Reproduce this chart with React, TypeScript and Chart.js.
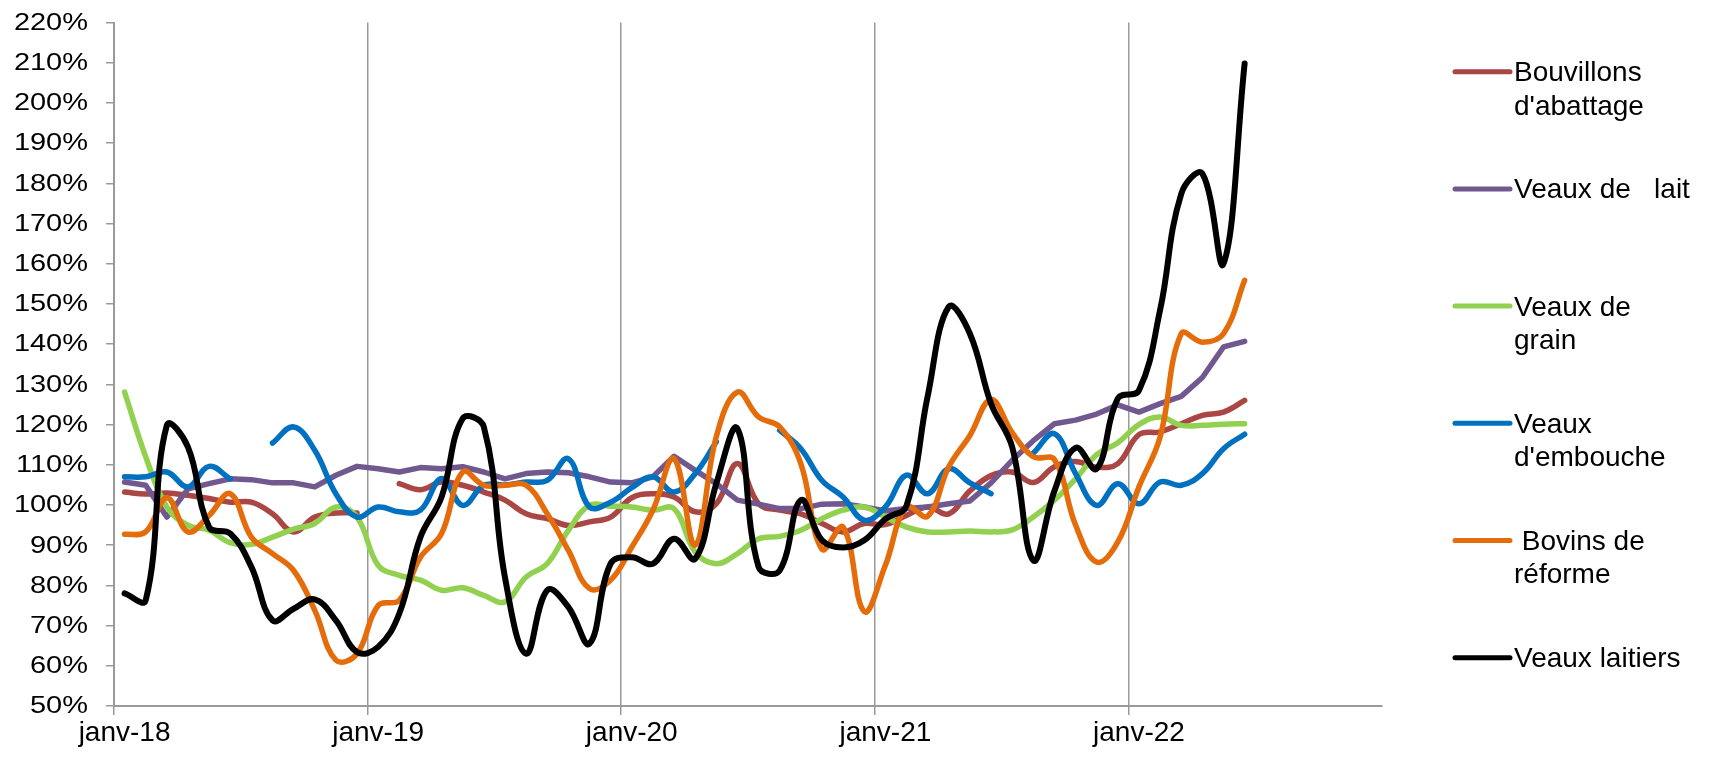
import React, { useEffect, useRef } from 'react';
import { Chart, registerables } from 'chart.js';

Chart.register(...registerables);

// ---- data ----
const monthNames = ['janv', 'févr', 'mars', 'avr', 'mai', 'juin', 'juil', 'août', 'sept', 'oct', 'nov', 'déc'];
const years = ['18', '19', '20', '21', '22'];
const categories = years.flatMap((y) => monthNames.map((m) => `${m}-${y}`));

const yTicks = [50, 60, 70, 80, 90, 100, 110, 120, 130, 140, 150, 160, 170, 180, 190, 200, 210, 220];

const bouvillons = [
  103.2, 102.7, 103, 102.4, 101.6, 100.7, 100.7, 97.8, 93.3, 97, 98, 98,
  null, 105.3, 103.8, 105.7, 104.9, 103.2, 101.2, 97.8, 96.6, 94.9, 95.8, 97,
  101.8, 102.8, 102, 98.3, 100.3, 110.3, 100.3, 98.7, 97.8, 95.4, 93.3, 95.4,
  95.1, 97.4, 99.5, 97.8, 103.5, 107.3, 108.2, 105.6, 109.5, 110.8, 109.4, 110.3,
  117.5, 118.2, 120.2, 122.3, 123.1, 126,
];
const veauxLait = [
  105.7, 104.9, 97, 104, 105.3, 106.5, 106.3, 105.5, 105.5, 104.5, 107.4, 109.6,
  109, 108.2, 109.3, 109, 109.5, 108.2, 106.5, 107.8, 108.2, 108, 107, 105.7,
  105.5, 107, 112.1, 108.6, 105.3, 101.2, 100.2, 99.1, 99.1, 100.2, 100.3, 99.5,
  98.5, 99.1, 99.5, 100.3, 101, 105.5, 111.1, 116, 120.2, 121.1, 122.6, 124.9,
  123.1, 125.2, 127, 131.7, 139.3, 140.7,
];
const veauxGrain = [
  128.1, 112, 99.5, 95, 93.7, 90.6, 90.2, 92, 94, 95.4, 99.5, 97,
  85, 82.5, 81.3, 78.8, 79.4, 77.5, 75.9, 82.1, 85.4, 93.7, 99.9, 99.7,
  99.5, 98.7, 99.1, 88.3, 85.4, 87.9, 91.6, 92.2, 93.7, 96.6, 98.7, 99.5,
  97, 94.5, 93.3, 93.3, 93.5, 93.3, 93.8, 97, 101.2, 106.5, 112.5, 115.5,
  120, 121.9, 119.8, 119.8, 120.1, 120.2,
];
const veauxEmbouche = [
  107, 107, 108.2, 104.5, 109.6, 106.5, null, 115.4, 119.4, 113.6, 102.8, 97,
  99.5, 98.3, 98.7, 106.6, 99.9, 104.9, 105, 105.7, 106.1, 111.5, 99.5, 100.7,
  104.3, 107, 103.2, 107.8, 115.7, null, null, 118.6, 114, 106.1, 102, 96.2,
  99.5, 107.4, 102.8, 109, 105.5, 102.8, null, 112.9, 117.7, 107.8, 99.9, 105.3,
  100.3, 105.7, 104.9, 107.8, 114, 117.6,
];
const bovinsReforme = [
  92.7, 93.3, 101.8, 93.3, 97.4, 102.8, 92, 87.9, 83.7, 73.8, 61.4, 63,
  75, 76.3, 87, 92.9, 108.2, 104.9, 104.9, 104.9, 97.8, 88.7, 79.2, 81.3,
  89.5, 98.7, 111.5, 90, 117, 128.1, 121.9, 119.4, 110.3, 89, 94.5, 73.5,
  85, 99.5, 97.2, 109.5, 117.3, 126.2, 118, 112, 111.3, 95, 85.8, 90.8,
  104.5, 116.9, 142.6, 140.5, 142.6, 155.9,
];
const veauxLaitiers = [
  78, 76.3, 119.8, 114.4, 94.5, 92.9, 84.6, 71.3, 74.2, 76.5, 71.3, 63.4,
  64.7, 73, 92, 102, 121.5, 119.4, 82, 63, 78.8, 74.6, 65.5, 85.4,
  87, 85.4, 91.6, 86.6, 105.3, 119, 84.6, 83.7, 101.2, 91.2, 89.4, 91.2,
  96.5, 99.8, 127, 149.3, 142.6, 125.2, 114.4, 86.2, 103.5, 114.2, 109, 126.5,
  128.5, 148.5, 177.4, 182.4, 160, 209.8,
];

const seriesLabels = [
  ['Bouvillons', "d'abattage"],
  ['Veaux de   lait'],
  ['Veaux de', 'grain'],
  ['Veaux', "d'embouche"],
  [' Bovins de', 'réforme'],
  ['Veaux laitiers'],
];
const seriesData = [bouvillons, veauxLait, veauxGrain, veauxEmbouche, bovinsReforme, veauxLaitiers];
const seriesColors = ['#AA4643', '#71588F', '#92D050', '#0070C0', '#E46C0A', '#000000'];
const seriesTension = [0.4, 0, 0.4, 0.4, 0.4, 0.4];
const seriesWidth = [5.5, 5.5, 5.5, 5.5, 5.5, 6];

const FONT = '"Liberation Sans", Arial, sans-serif';

const yLabelPlugin = {
  id: 'yLabels',
  afterDraw(chart: any) {
    const ys = chart.scales.y;
    const ctx = chart.ctx;
    ctx.save();
    ctx.fillStyle = '#000';
    ctx.font = `23px ${FONT}`;
    ctx.textAlign = 'right';
    ctx.textBaseline = 'middle';
    ys.ticks.forEach((t: any) => {
      const py = ys.getPixelForValue(t.value);
      ctx.save();
      ctx.translate(ys.right - 26, py + 1);
      ctx.scale(1.26, 1);
      ctx.fillText(`${t.value}%`, 0, 0);
      ctx.restore();
    });
    ctx.restore();
  },
};

const legendPlugin = {
  id: 'sideLegend',
  afterDraw(chart: any) {
    const ctx = chart.ctx;
    const x0 = 1455;
    const x1 = 1510;
    const tx = 1514;
    const firstY = 71.7;
    const step = 117.2;
    const lh = 33.3;
    ctx.save();
    seriesLabels.forEach((lines, k) => {
      const y = firstY + k * step;
      ctx.strokeStyle = seriesColors[k];
      ctx.lineWidth = 5;
      ctx.lineCap = 'round';
      ctx.beginPath();
      ctx.moveTo(x0, y);
      ctx.lineTo(x1, y);
      ctx.stroke();
      ctx.fillStyle = '#000';
      ctx.font = `28px ${FONT}`;
      ctx.textAlign = 'left';
      ctx.textBaseline = 'alphabetic';
      lines.forEach((ln, j) => {
        ctx.fillText(ln, tx, y + 9.5 + j * lh);
      });
    });
    ctx.restore();
  },
};

export default function App() {
  const ref = useRef<HTMLCanvasElement | null>(null);

  useEffect(() => {
    if (!ref.current) return;
    const chart = new Chart(ref.current, {
      type: 'line',
      data: {
        labels: categories,
        datasets: seriesData.map((d, k) => ({
          label: seriesLabels[k].join(' '),
          data: d,
          borderColor: seriesColors[k],
          backgroundColor: seriesColors[k],
          borderWidth: seriesWidth[k],
          pointRadius: 0,
          pointHoverRadius: 0,
          tension: seriesTension[k],
          borderCapStyle: 'round' as const,
          borderJoinStyle: 'round' as const,
          spanGaps: false,
          fill: false,
          order: seriesData.length - k,
        })),
      },
      options: {
        responsive: false,
        animation: false,
        devicePixelRatio: 1,
        layout: { padding: { left: 0, right: 336, top: 22.5, bottom: 0 } },
        plugins: {
          legend: { display: false },
          tooltip: { enabled: false },
        },
        scales: {
          x: {
            type: 'category',
            offset: true,
            grid: {
              offset: true,
              display: true,
              drawOnChartArea: true,
              drawTicks: true,
              tickLength: 9,
              lineWidth: 1.5,
              color: (c: any) => (c.index % 12 === 0 ? '#9a9a9a' : 'rgba(0,0,0,0)'),
            },
            border: { display: true, color: '#9a9a9a', width: 2 },
            ticks: {
              autoSkip: false,
              maxRotation: 0,
              minRotation: 0,
              padding: 1,
              color: '#000',
              font: { family: FONT, size: 28 },
              callback: (_v: any, i: number) => (i % 12 === 0 ? categories[i] : ''),
            },
            afterFit: (s: any) => {
              s.height = 52;
            },
          },
          y: {
            min: 50,
            max: 220,
            afterBuildTicks: (s: any) => {
              s.ticks = yTicks.map((v) => ({ value: v }));
            },
            grid: {
              display: true,
              drawOnChartArea: false,
              drawTicks: true,
              tickLength: 8,
              lineWidth: 1.5,
              color: '#9a9a9a',
            },
            border: { display: true, color: '#9a9a9a', width: 2 },
            ticks: { display: false },
            afterFit: (s: any) => {
              s.width = 114;
            },
          },
        },
      },
      plugins: [yLabelPlugin, legendPlugin],
    });
    return () => chart.destroy();
  }, []);

  return (
    <div style={{ position: 'fixed', left: 0, top: 0, width: 1718, height: 758, background: '#fff' }}>
      <canvas ref={ref} width={1718} height={758} style={{ width: 1718, height: 758 }} />
    </div>
  );
}
